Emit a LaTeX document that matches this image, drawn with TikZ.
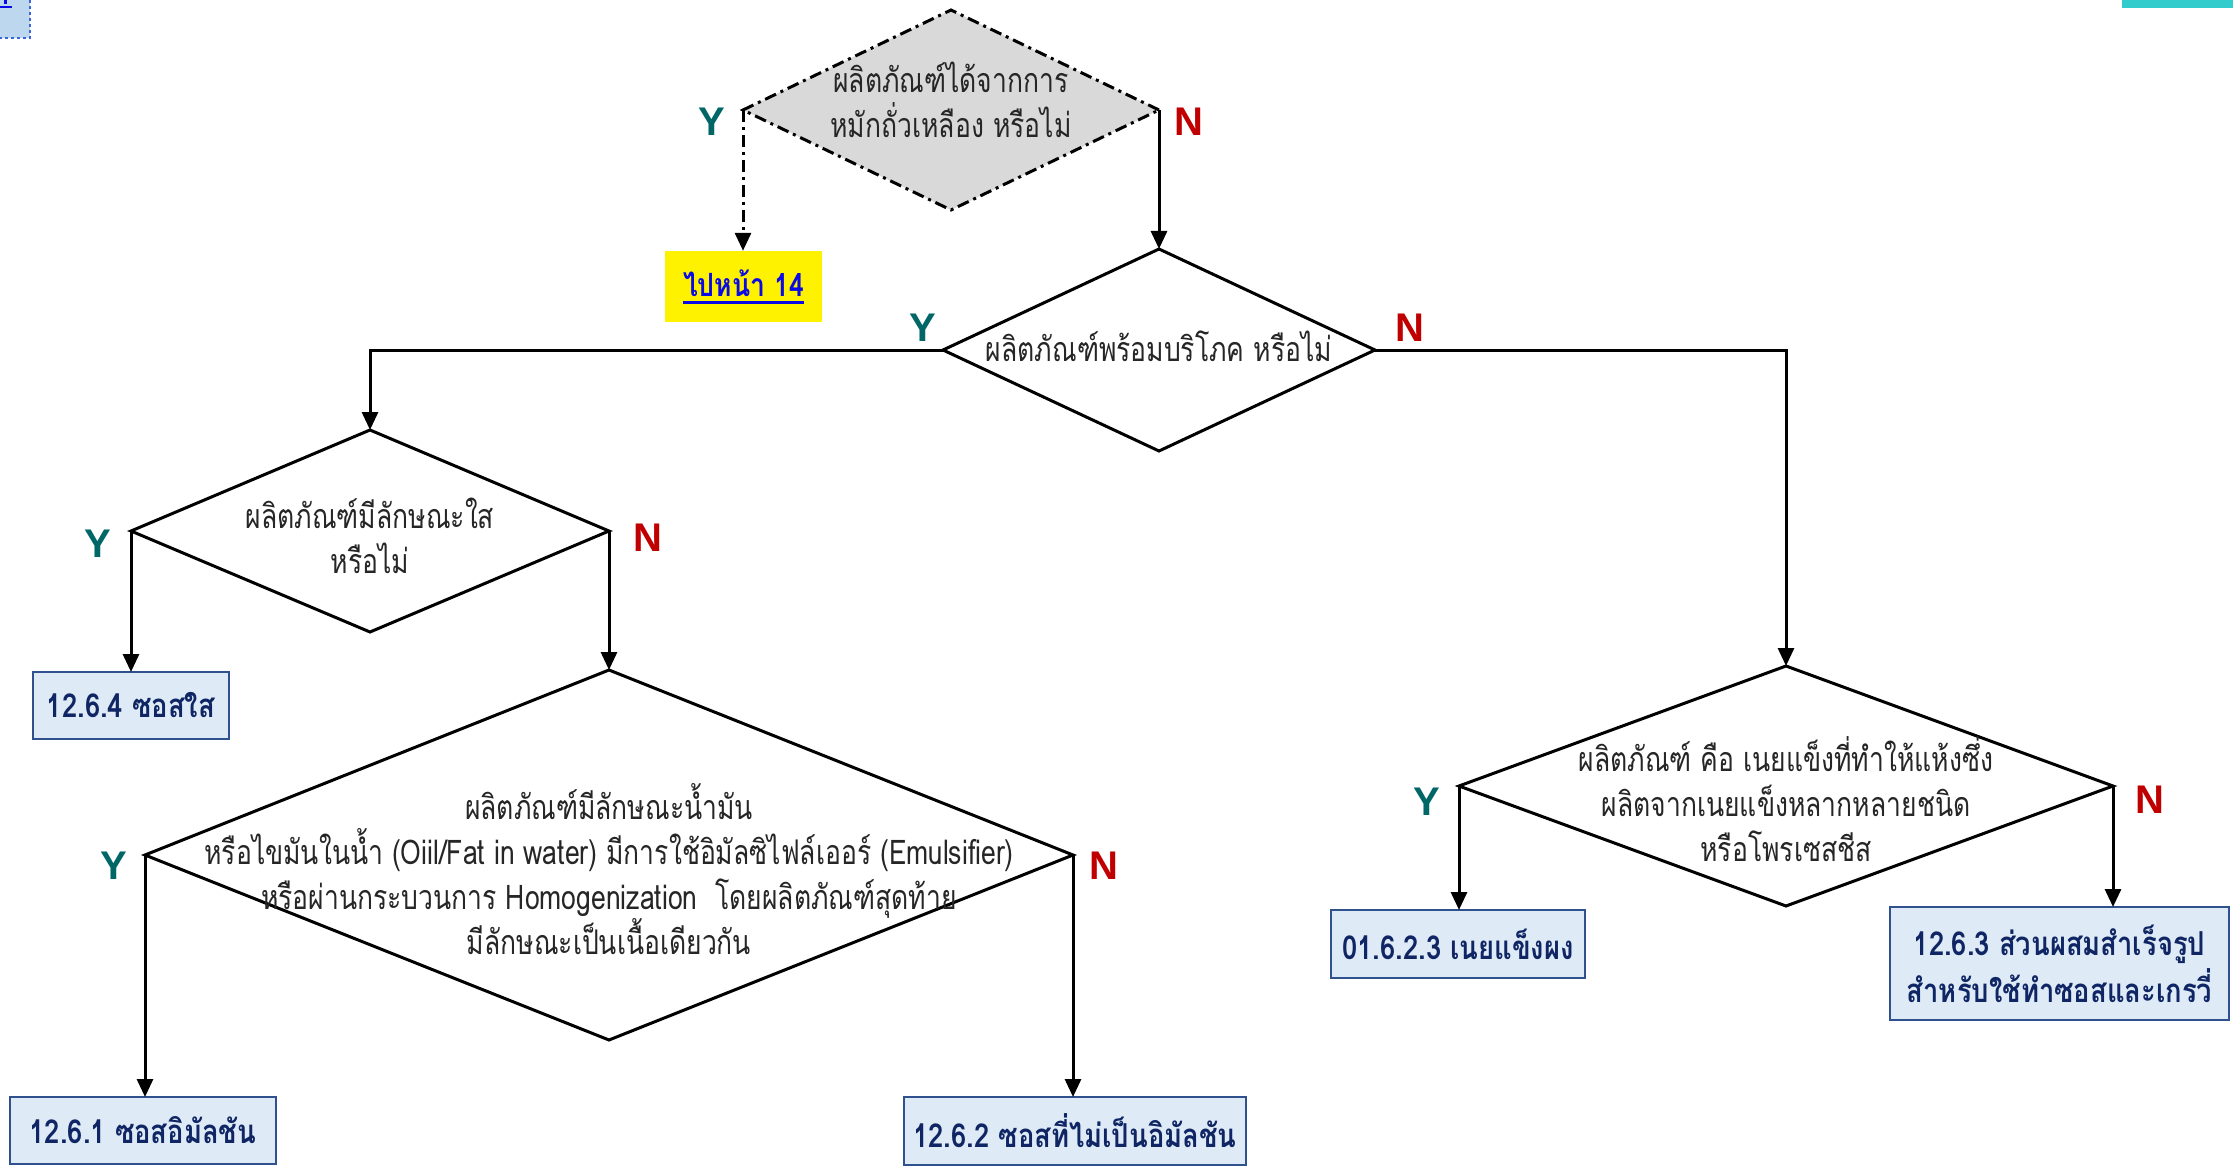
\documentclass[tikz,border=0pt]{standalone}
\usepackage{fontspec}
\usetikzlibrary{shapes.geometric,arrows.meta}
\newfontfamily\thaifont[Script=Thai,FakeStretch=0.78]{Loma}
\newfontfamily\thaibold[Script=Thai,FakeStretch=0.83]{Loma}
\newfontfamily\labelfont{Liberation Sans}
\definecolor{yescol}{RGB}{0,102,102}
\definecolor{nocol}{RGB}{192,0,0}
\definecolor{boxfill}{RGB}{222,235,247}
\definecolor{boxline}{RGB}{47,82,143}
\definecolor{boxtext}{RGB}{16,38,100}
\definecolor{qfill}{RGB}{217,217,217}
\definecolor{linkblue}{RGB}{10,10,230}
\definecolor{tealbar}{RGB}{51,204,204}
\definecolor{tabfill}{RGB}{189,215,238}
\definecolor{tabline}{RGB}{60,100,220}

\begin{document}
\begin{tikzpicture}[x=1pt,y=-1pt,
  decision/.style={diamond, draw=black, line width=3pt, inner sep=0pt, outer sep=0pt, fill=white},
  qtext/.style={font=\thaifont\fontsize{34}{45}\selectfont, align=center, text=black!85, inner sep=0pt},
  result/.style={rectangle, draw=boxline, line width=2pt, fill=boxfill, inner sep=0pt, outer sep=0pt,
    font=\thaibold\bfseries\fontsize{33}{47}\selectfont, text=boxtext, align=center},
  yes/.style={font=\labelfont\bfseries\fontsize{40}{40}\selectfont, text=yescol, inner sep=0pt},
  no/.style={font=\labelfont\bfseries\fontsize{40}{40}\selectfont, text=nocol, inner sep=0pt},
  flow/.style={line width=3pt, -{Triangle[length=18pt,width=16pt]}},
]
\path[use as bounding box] (0,0) rectangle (2233,1166);

% page decorations
\fill[tealbar] (2122,0) rectangle (2233,8);
\fill[tabfill] (0,0) rectangle (30,38);
\draw[tabline, dashed, line width=1.5pt] (30,0) -- (30,38) -- (0,38);
\fill[linkblue] (4,0) rectangle (7,4);
\fill[linkblue] (0,6) rectangle (12,8);

% decisions
\node[decision, fill=qfill, draw=black, dash pattern=on 12pt off 5pt on 3pt off 5pt,
      minimum width=416pt, minimum height=200pt] (d1) at (951,110) {};
\node[qtext] (d1t) at (951,100) {ผลิตภัณฑ์ได้จากการ\\หมักถั่วเหลือง หรือไม่};

\node[decision, minimum width=432pt, minimum height=202pt] (d2) at (1159,350) {};
\node[qtext] (d2t) at (1159,346) {ผลิตภัณฑ์พร้อมบริโภค หรือไม่};

\node[decision, minimum width=478pt, minimum height=202pt] (d3) at (370,531) {};
\node[qtext] (d3t) at (370,536) {ผลิตภัณฑ์มีลักษณะใส\\หรือไม่};

\node[decision, minimum width=928pt, minimum height=370pt] (d4) at (609,855) {};
\node[qtext] (d4t) at (609,869) {ผลิตภัณฑ์มีลักษณะน้ำมัน\\หรือไขมันในน้ำ (Oiil/Fat in water) มีการใช้อิมัลซิไฟล์เออร์ (Emulsifier)\\หรือผ่านกระบวนการ Homogenization\ \ โดยผลิตภัณฑ์สุดท้าย\\มีลักษณะเป็นเนื้อเดียวกัน};

\node[decision, minimum width=654pt, minimum height=240pt] (d5) at (1786,786) {};
\node[qtext] (d5t) at (1786,799) {ผลิตภัณฑ์ คือ เนยแข็งที่ทำให้แห้งซึ่ง\\ผลิตจากเนยแข็งหลากหลายชนิด\\หรือโพรเซสชีส};

% link box
\node[rectangle, fill=yellow, minimum width=157pt, minimum height=71pt, inner sep=0pt] (goto) at (743.5,286.5) {};
\node[font=\thaibold\bfseries\fontsize{32}{36}\selectfont, text=linkblue, inner sep=0pt, anchor=base] (gotot) at (743.5,297) {ไปหน้า 14};
\draw[linkblue, line width=3pt] ([yshift=-6pt]gotot.base west) -- ([yshift=-6pt]gotot.base east);

% results
\node[result, minimum width=196pt, minimum height=67pt] (b4) at (131,705.5) {12.6.4 ซอสใส};
\node[result, minimum width=266pt, minimum height=67pt] (b1) at (143,1130.5) {12.6.1 ซอสอิมัลชัน};
\node[result, minimum width=342pt, minimum height=68pt] (b2) at (1075,1131) {12.6.2 ซอสที่ไม่เป็นอิมัลชัน};
\node[result, minimum width=254pt, minimum height=68pt] (b3) at (1458,944) {01.6.2.3 เนยแข็งผง};
\node[result, minimum width=339pt, minimum height=113pt] (b5) at (2059.5,963.5) {12.6.3 ส่วนผสมสำเร็จรูป\\สำหรับใช้ทำซอสและเกรวี่};

% branch labels
\node[yes] (y1) at (712,122) {Y};
\node[no]  (n1) at (1189,122) {N};
\node[yes] (y2) at (923,328) {Y};
\node[no]  (n2) at (1410,328) {N};
\node[yes] (y3) at (98,544) {Y};
\node[no]  (n3) at (648,538) {N};
\node[yes] (y4) at (114,866) {Y};
\node[no]  (n4) at (1104,866) {N};
\node[yes] (y5) at (1427,802) {Y};
\node[no]  (n5) at (2150,800) {N};

% connectors
\draw[flow, dash pattern=on 12pt off 5pt on 3pt off 5pt] (d1.west) -- (d1.west |- goto.north);
\draw[flow] (d1.east) -- (d1.east |- d2.north);
\draw[flow] (d2.west) -| (d3.north);
\draw[flow] (d2.east) -| (d5.north);
\draw[flow] (d3.west) -- (d3.west |- b4.north);
\draw[flow] (d3.east) -- (d3.east |- d4.north);
\draw[flow] (d4.west) -- (d4.west |- b1.north);
\draw[flow] (d4.east) -- (d4.east |- b2.north);
\draw[flow] (d5.west) -- (d5.west |- b3.north);
\draw[flow] (d5.east) -- (d5.east |- b5.north);
\end{tikzpicture}
\end{document}
